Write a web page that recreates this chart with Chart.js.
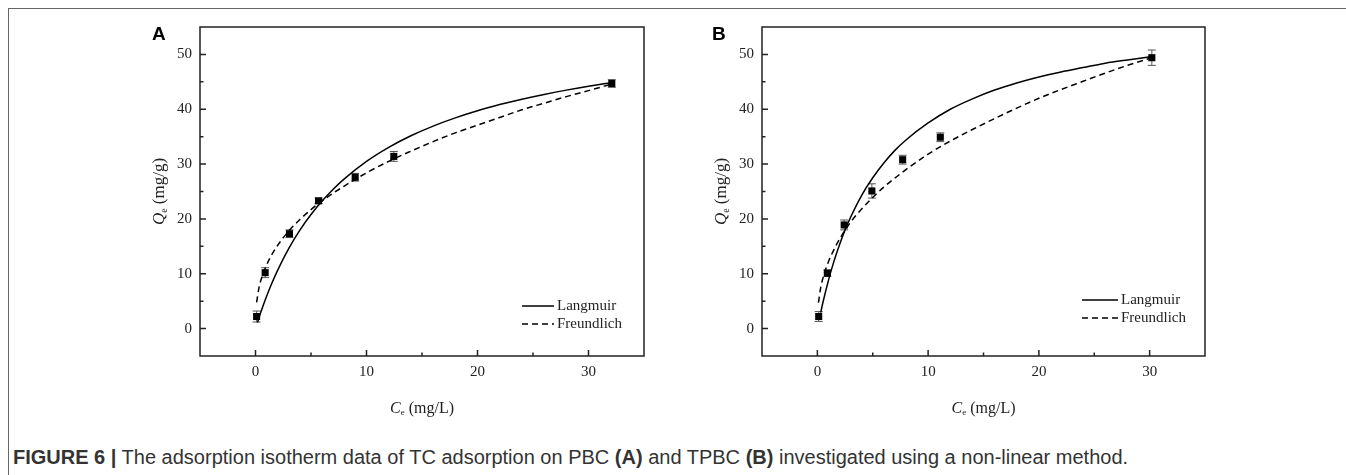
<!DOCTYPE html>
<html><head><meta charset="utf-8">
<script src="https://cdn.jsdelivr.net/npm/chart.js@4.4.0/dist/chart.umd.min.js"></script>
<style>
html,body{margin:0;padding:0;background:#fff;width:1346px;height:475px;overflow:hidden;position:relative;}
#frame{position:absolute;left:8px;top:8px;width:1338px;height:467px;border-top:1.5px solid #666;border-left:1.5px solid #666;}
.panel{position:absolute;top:0;width:600px;height:440px;}
#caption{position:absolute;left:13px;top:445px;font-family:'Liberation Sans',Arial,sans-serif;font-size:20px;line-height:24px;color:#333;white-space:nowrap;}
</style></head><body>
<div id="frame"></div>
<div class="panel" style="left:100px"><canvas id="cA" width="600" height="440"></canvas></div>
<div class="panel" style="left:662px"><canvas id="cB" width="600" height="440"></canvas></div>
<div id="caption"><b>FIGURE 6 |</b> The adsorption isotherm data of TC adsorption on PBC <b>(A)</b> and TPBC <b>(B)</b> investigated using a non-linear method.</div>
<script>
// ---- Data ----
const xTicks = [0, 10, 20, 30];
const xMinorTicks = [5, 15, 25];
const yTicks = [0, 10, 20, 30, 40, 50];
const yMinorTicks = [5, 15, 25, 35, 45];

// Panel A (PBC)
const aCe  = [0.1, 0.87, 3.06, 5.68, 8.98, 12.46, 32.1];
const aQe  = [2.2, 10.2, 17.3, 23.3, 27.6, 31.4, 44.7];
const aErr = [1.0, 0.9, 0.7, 0.5, 0.7, 0.9, 0.7];
const aLangC = [0.17, 0.5, 1, 1.5, 2, 3, 4, 5, 6, 7, 8, 10, 12, 14, 16, 18, 20, 22, 24, 26, 28, 30, 32.1];
const aLangQ = [1.09, 3.1, 5.88, 8.39, 10.66, 14.62, 17.96, 20.81, 23.27, 25.42, 27.31, 30.49, 33.05, 35.16, 36.93, 38.43, 39.73, 40.85, 41.84, 42.71, 43.49, 44.19, 44.85];
const aFreuC = [0.1, 0.3, 0.5, 0.87, 1.5, 2, 3, 4, 5, 6, 8, 10, 12, 14, 16, 18, 20, 22, 24, 26, 28, 30, 32.1];
const aFreuQ = [4.8, 7.3, 8.9, 11.0, 13.6, 15.2, 17.8, 19.9, 21.7, 23.3, 26.0, 28.4, 30.5, 32.35, 34.1, 35.7, 37.1, 38.5, 39.9, 41.1, 42.3, 43.4, 44.6];

// Panel B (TPBC)
const bCe  = [0.12, 0.9, 2.42, 4.92, 7.7, 11.1, 30.2];
const bQe  = [2.2, 10.1, 18.9, 25.1, 30.8, 34.9, 49.4];
const bErr = [0.9, 0.6, 0.9, 1.3, 0.8, 0.8, 1.4];
const bLangC = [0.3, 0.5, 1, 1.5, 2, 2.5, 3, 4, 5, 6, 7, 8, 10, 12, 14, 16, 18, 20, 22, 24, 26, 28, 30.2];
const bLangQ = [2.9, 4.75, 8.8, 12.3, 15.3, 18.0, 20.3, 24.3, 27.5, 30.2, 32.5, 34.4, 37.5, 40.0, 41.9, 43.5, 44.8, 45.9, 46.8, 47.6, 48.4, 49.0, 49.6];
const bFreuC = [0.1, 0.3, 0.6, 1, 1.5, 2, 3, 4, 5, 6, 8, 10, 12, 14, 16, 18, 20, 22, 24, 26, 28, 30.2];
const bFreuQ = [4.75, 7.45, 9.9, 12.2, 14.4, 16.3, 19.4, 21.8, 23.9, 25.8, 29.0, 31.8, 34.2, 36.3, 38.3, 40.2, 42.0, 43.6, 45.1, 46.6, 48.0, 49.4];

const seriesNames = ['Langmuir', 'Freundlich'];

// ---- helpers ----
const pairs = (xs, ys) => xs.map((v, i) => ({x: v, y: ys[i]}));
const SERIF = "'Liberation Serif','Times New Roman',serif";

function drawMixed(ctx, parts, cx, cy) {
  let w = 0;
  parts.forEach(p => { ctx.font = p.font; w += ctx.measureText(p.t).width; });
  let x = cx - w / 2;
  ctx.textBaseline = 'middle';
  ctx.textAlign = 'left';
  parts.forEach(p => { ctx.font = p.font; ctx.fillText(p.t, x, cy + (p.dy || 0)); x += ctx.measureText(p.t).width; });
}

const deco = {
  id: 'deco',
  beforeDatasetsDraw(chart, args, o) {
    const {ctx, scales: {x, y}} = chart;
    ctx.save();
    ctx.strokeStyle = '#555';
    ctx.lineWidth = 1;
    o.ex.forEach((cx, i) => {
      const px = x.getPixelForValue(cx);
      const t = y.getPixelForValue(o.ey[i] + o.err[i]);
      const b = y.getPixelForValue(o.ey[i] - o.err[i]);
      ctx.beginPath();
      ctx.moveTo(px, t); ctx.lineTo(px, b);
      ctx.moveTo(px - 4, t); ctx.lineTo(px + 4, t);
      ctx.moveTo(px - 4, b); ctx.lineTo(px + 4, b);
      ctx.stroke();
    });
    ctx.restore();
  },
  afterDraw(chart, args, o) {
    const {ctx, chartArea: ca, scales: {x, y}} = chart;
    ctx.save();
    ctx.strokeStyle = '#222';
    ctx.lineWidth = 1.5;
    ctx.strokeRect(ca.left, ca.top, ca.right - ca.left, ca.bottom - ca.top);
    ctx.beginPath();
    xTicks.forEach(v => { const p = x.getPixelForValue(v); ctx.moveTo(p, ca.bottom); ctx.lineTo(p, ca.bottom - 6); });
    xMinorTicks.forEach(v => { const p = x.getPixelForValue(v); ctx.moveTo(p, ca.bottom); ctx.lineTo(p, ca.bottom - 3.5); });
    yTicks.forEach(v => { const p = y.getPixelForValue(v); ctx.moveTo(ca.left, p); ctx.lineTo(ca.left + 6, p); });
    yMinorTicks.forEach(v => { const p = y.getPixelForValue(v); ctx.moveTo(ca.left, p); ctx.lineTo(ca.left + 3.5, p); });
    ctx.stroke();
    ctx.fillStyle = '#222';
    drawMixed(ctx, [
      {t: 'C', font: 'italic 16px ' + SERIF},
      {t: 'e', font: '9px ' + SERIF, dy: 4},
      {t: ' (mg/L)', font: '16px ' + SERIF}
    ], (ca.left + ca.right) / 2, ca.bottom + 53);
    ctx.save();
    ctx.translate(ca.left - 40, (ca.top + ca.bottom) / 2);
    ctx.rotate(-Math.PI / 2);
    drawMixed(ctx, [
      {t: 'Q', font: 'italic 17px ' + SERIF},
      {t: 'e', font: '10px ' + SERIF, dy: 4},
      {t: ' (mg/g)', font: '17px ' + SERIF}
    ], 0, 0);
    ctx.restore();
    const lx0 = ca.right + o.legX0, lx1 = ca.right + o.legX1;
    const ly = [ca.bottom + o.legY0, ca.bottom + o.legY0 + 18];
    ctx.strokeStyle = '#000';
    ctx.lineWidth = 1.5;
    [[], [6, 4]].forEach((dash, i) => {
      ctx.setLineDash(dash);
      ctx.beginPath(); ctx.moveTo(lx0, ly[i]); ctx.lineTo(lx1, ly[i]); ctx.stroke();
    });
    ctx.setLineDash([]);
    ctx.font = '15px ' + SERIF;
    ctx.textAlign = 'left';
    ctx.textBaseline = 'middle';
    seriesNames.forEach((n, i) => ctx.fillText(n, lx1 + 3, ly[i]));
    ctx.font = "bold 19px 'Liberation Sans',Arial,sans-serif";
    ctx.fillStyle = '#000';
    ctx.textBaseline = 'middle';
    ctx.fillText(o.letter, ca.left + o.letX, 35);
    ctx.restore();
  }
};

function makeChart(id, pts, lang, freu, errs, padRight, extra) {
  return new Chart(document.getElementById(id), {
    type: 'scatter',
    data: {datasets: [
      {label: 'data', data: pts, pointStyle: 'rect', pointRadius: 5, backgroundColor: '#000', borderColor: '#000', borderWidth: 0, showLine: false},
      {label: seriesNames[0], data: lang, showLine: true, borderColor: '#000', borderWidth: 1.5, pointRadius: 0, cubicInterpolationMode: 'monotone', fill: false},
      {label: seriesNames[1], data: freu, showLine: true, borderColor: '#000', borderWidth: 1.5, borderDash: [6, 4], pointRadius: 0, cubicInterpolationMode: 'monotone', fill: false}
    ]},
    options: {
      responsive: false, animation: false, devicePixelRatio: 1,
      layout: {padding: {top: 27, right: padRight, bottom: 0, left: 0}},
      plugins: {legend: {display: false}, tooltip: {enabled: false}, deco: Object.assign({}, errs, extra)},
      scales: {
        x: {type: 'linear', min: -5, max: 35,
            afterBuildTicks: s => { s.ticks = xTicks.map(v => ({value: v})); },
            afterFit: s => { s.height = 84; },
            grid: {display: false, drawTicks: false}, border: {display: false},
            ticks: {padding: 7, autoSkip: false, maxRotation: 0, color: '#222', font: {family: SERIF, size: 15}}},
        y: {type: 'linear', min: -5, max: 55,
            afterBuildTicks: s => { s.ticks = yTicks.map(v => ({value: v})); },
            afterFit: s => { s.width = 100; },
            grid: {display: false, drawTicks: false}, border: {display: false},
            ticks: {padding: 8, autoSkip: false, color: '#222', font: {family: SERIF, size: 15}}}
      }
    },
    plugins: [deco]
  });
}

makeChart('cA', pairs(aCe, aQe), pairs(aLangC, aLangQ), pairs(aFreuC, aFreuQ),
  {ex: aCe, ey: aQe, err: aErr}, 56,
  {legX0: -122, legX1: -90, legY0: -50, letter: 'A', letX: -48});
makeChart('cB', pairs(bCe, bQe), pairs(bLangC, bLangQ), pairs(bFreuC, bFreuQ),
  {ex: bCe, ey: bQe, err: bErr}, 57,
  {legX0: -123, legX1: -87, legY0: -56, letter: 'B', letX: -50});
</script>
</body></html>
